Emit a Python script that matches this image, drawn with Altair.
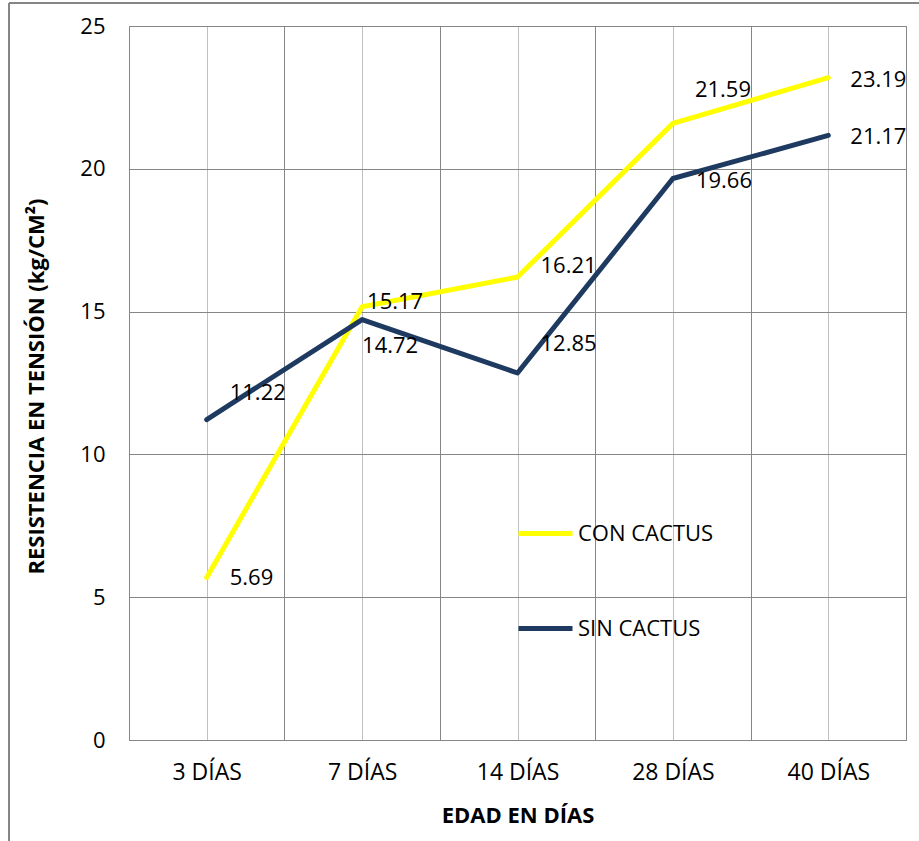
import json
import altair as alt
import pandas as pd

categories = ["3 DÍAS", "7 DÍAS", "14 DÍAS", "28 DÍAS", "40 DÍAS"]
series_names = ["CON CACTUS", "SIN CACTUS"]
con_cactus = [5.69, 15.17, 16.21, 21.59, 23.19]
sin_cactus = [11.22, 14.72, 12.85, 19.66, 21.17]
y_ticks = [0, 5, 10, 15, 20, 25]

rows = []
for s, vals in zip(series_names, [con_cactus, sin_cactus]):
    for i, (c, v) in enumerate(zip(categories, vals)):
        rows.append({"serie": s, "cat": c, "idx": i, "valor": v})
df = pd.DataFrame(rows)

FONT = "Open Sans"
DARK = "#868686"
LIGHT = "#C0C0C0"
W, H = 777, 714
LEFT, TOP = 129, 26

x_enc = alt.X(
    "idx:Q",
    scale=alt.Scale(domain=[-0.5, 4.5], nice=False, zero=False),
    axis=alt.Axis(
        values=[-0.5, 0, 0.5, 1, 1.5, 2, 2.5, 3, 3.5, 4, 4.5],
        labelExpr="datum.value % 1 === 0 ? " + json.dumps(categories, ensure_ascii=False) + "[datum.value] : ''",
        grid=True,
        gridColor={"condition": {"test": "datum.value % 1 === 0", "value": LIGHT}, "value": DARK},
        gridWidth=1,
        ticks=False,
        domainColor=DARK,
        labelFont=FONT,
        labelFontSize=23,
        labelColor="#000000",
        labelPadding=32,
        labelBaseline="middle",
        title="EDAD EN DÍAS",
        titleFont=FONT,
        titleFontSize=22,
        titleFontWeight="bold",
        titleColor="#000000",
        titleX=W / 2,
        titleY=815 - (TOP + H),
        titleBaseline="middle",
        titleAlign="center",
    ),
)

y_enc = alt.Y(
    "valor:Q",
    scale=alt.Scale(domain=[0, 25], nice=False),
    axis=alt.Axis(
        values=y_ticks,
        grid=True,
        gridColor=DARK,
        gridWidth=1,
        ticks=False,
        domainColor=DARK,
        labelFont=FONT,
        labelFontSize=22,
        labelColor="#000000",
        labelPadding=24,
        title="RESISTENCIA EN TENSIÓN (kg/CM²)",
        titleFont=FONT,
        titleFontSize=22,
        titleFontWeight="bold",
        titleColor="#000000",
        titleX=36 - LEFT,
        titleY=386 - TOP,
        titleAngle=270,
        titleBaseline="middle",
        titleAlign="center",
    ),
)

color_enc = alt.Color(
    "serie:N",
    scale=alt.Scale(domain=series_names, range=["#FFFF00", "#1F3A60"]),
    legend=alt.Legend(
        orient="none",
        legendX=387,
        legendY=478,
        title=None,
        symbolType="stroke",
        symbolSize=2916,
        symbolStrokeWidth=5,
        labelFont=FONT,
        labelFontSize=22,
        labelColor="#000000",
        labelOffset=3,
        rowPadding=54,
    ),
)

base = alt.Chart(df)
lines = base.mark_line(strokeWidth=5, strokeCap="round", strokeJoin="round").encode(
    x=x_enc, y=y_enc, color=color_enc
)

label_offsets = {
    "CON CACTUS": [(23, 1), (5, -5), (23, -11), (22, -33), (22, 2)],
    "SIN CACTUS": [(23, -27), (0, 26), (23, -29), (23, 2), (22, 2)],
}
label_layers = []
for s in series_names:
    for i, (dx, dy) in enumerate(label_offsets[s]):
        label_layers.append(
            base.transform_filter(
                (alt.datum.serie == s) & (alt.datum.idx == i)
            ).mark_text(
                align="left", baseline="middle", dx=dx, dy=dy,
                font=FONT, fontSize=22, color="#000000",
            ).encode(x="idx:Q", y="valor:Q", text=alt.Text("valor:Q", format=".2f"))
        )

border_left = base.mark_rule(color=DARK, strokeWidth=1.5).encode(
    x=alt.value(9 - LEFT), y=alt.value(3 - TOP), y2=alt.value(900)
)
border_top = base.mark_rule(color=DARK, strokeWidth=1.5).encode(
    x=alt.value(9 - LEFT), x2=alt.value(1000), y=alt.value(3 - TOP)
)

chart = alt.layer(lines, *label_layers, border_left, border_top).properties(
    width=W,
    height=H,
    autosize=alt.AutoSizeParams(type="none"),
    padding={"left": LEFT, "top": TOP, "right": 919 - LEFT - W, "bottom": 841 - TOP - H},
    background="#FFFFFF",
).configure_view(stroke=DARK, strokeWidth=1)

chart.save("out.html", embed_options={"renderer": "svg", "actions": False})
